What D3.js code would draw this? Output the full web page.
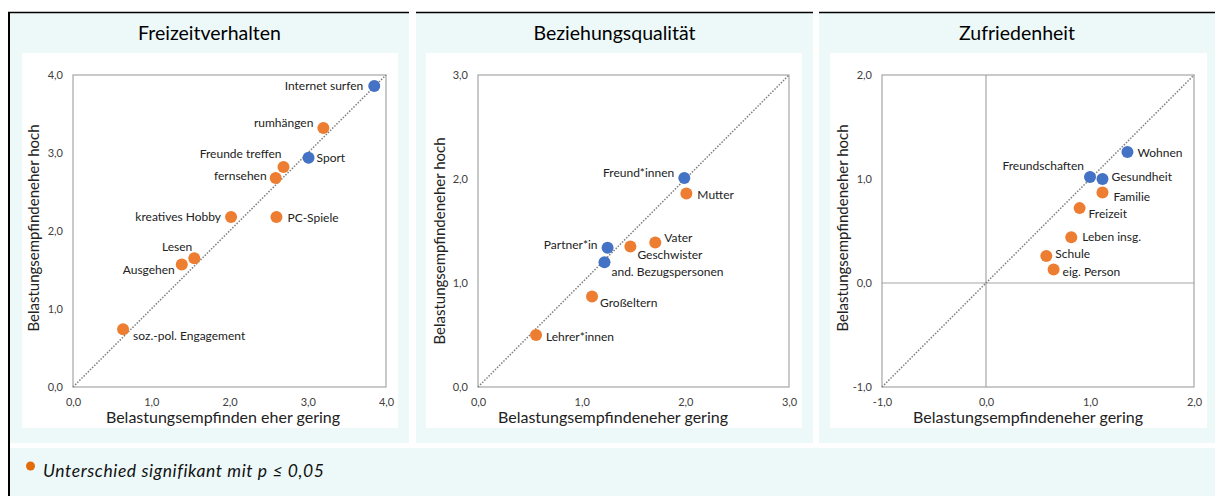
<!DOCTYPE html>
<html>
<head>
<meta charset="utf-8">
<script src="https://cdn.jsdelivr.net/npm/d3@7"></script>
<style>
  html, body { margin: 0; padding: 0; background: #fff; }
  svg { display: block; font-family: Lato, "Open Sans", sans-serif; }
</style>
</head>
<body>
<svg id="chart"></svg>
<script>
// --- data ---
const panelTitles = ["Freizeitverhalten", "Beziehungsqualität", "Zufriedenheit"];
const xAxisTitles = ["Belastungsempfinden eher gering", "Belastungsempfindeneher gering", "Belastungsempfindeneher gering"];
const yAxisTitle = "Belastungsempfindeneher hoch";

const freizeitItems = ["Internet surfen", "rumhängen", "Sport", "Freunde treffen", "fernsehen",
  "kreatives Hobby", "PC-Spiele", "Lesen", "Ausgehen", "soz.-pol. Engagement"];
const freizeitGering = [3.85, 3.20, 3.01, 2.69, 2.59, 2.02, 2.60, 1.55, 1.39, 0.64];
const freizeitHoch   = [3.86, 3.32, 2.94, 2.82, 2.68, 2.18, 2.18, 1.65, 1.57, 0.74];
const freizeitSignif = [false, true, false, true, true, true, true, true, true, true];

const beziehungItems = ["Freund*innen", "Mutter", "Vater", "Geschwister", "Partner*in",
  "and. Bezugspersonen", "Großeltern", "Lehrer*innen"];
const beziehungGering = [1.99, 2.01, 1.71, 1.47, 1.25, 1.22, 1.10, 0.56];
const beziehungHoch   = [2.01, 1.86, 1.39, 1.35, 1.34, 1.20, 0.87, 0.50];
const beziehungSignif = [false, true, true, true, false, false, true, true];

const zufriedenItems = ["Wohnen", "Freundschaften", "Gesundheit", "Familie", "Freizeit",
  "Leben insg.", "Schule", "eig. Person"];
const zufriedenGering = [1.36, 1.00, 1.12, 1.12, 0.90, 0.82, 0.58, 0.65];
const zufriedenHoch   = [1.26, 1.02, 1.00, 0.87, 0.72, 0.44, 0.26, 0.13];
const zufriedenSignif = [false, false, false, true, true, true, true, true];

const freizeitTicks = [0, 1, 2, 3, 4];
const beziehungTicks = [0, 1, 2, 3];
const zufriedenTicks = [-1, 0, 1, 2];

const legendText = "Unterschied signifikant mit p ≤ 0,05";

// label placement [anchor, dx, dy] relative to the point
const freizeitLabelPos = [["end", -11, 0], ["end", -10, -5], ["start", 8, 0], ["end", -2, -13], ["end", -9, -2],
  ["end", -10, 0], ["start", 11, 1], ["end", -2, -12], ["end", -7, 5], ["start", 10, 7]];
const beziehungLabelPos = [["end", -10, -5], ["start", 11, 1], ["start", 9, -5], ["start", 7, 8], ["end", -10, -3],
  ["start", 7, 10], ["start", 8, 6], ["start", 10, 2]];
const zufriedenLabelPos = [["start", 10, 1], ["end", -6, -11], ["start", 9, -2], ["start", 11, 4], ["start", 9, 6],
  ["start", 11, 0], ["start", 9, -2], ["start", 9, 2]];

// --- layout ---
const W = 1215, H = 496;
const cyan = "#EDF9F9";
const orange = "#ED7D31", blue = "#4472C4";
const gridGray = "#A6A6A6";
const plotTop = 75, plotBottom = 387;

const panels = [
  { title: panelTitles[0], xTitle: xAxisTitles[0], bg: [10, 409], inner: [22, 398], plot: [73, 386],
    domain: [0, 4], ticks: freizeitTicks, xTitleX: 223, yTitleY: 228,
    items: freizeitItems, xs: freizeitGering, ys: freizeitHoch, sig: freizeitSignif, pos: freizeitLabelPos },
  { title: panelTitles[1], xTitle: xAxisTitles[1], bg: [416, 813], inner: [426, 802], plot: [478, 789],
    domain: [0, 3], ticks: beziehungTicks, xTitleX: 613, yTitleY: 241,
    items: beziehungItems, xs: beziehungGering, ys: beziehungHoch, sig: beziehungSignif, pos: beziehungLabelPos },
  { title: panelTitles[2], xTitle: xAxisTitles[2], bg: [819, 1215], inner: [830, 1207], plot: [882, 1194],
    domain: [-1, 2], ticks: zufriedenTicks, xTitleX: 1028, yTitleY: 228,
    items: zufriedenItems, xs: zufriedenGering, ys: zufriedenHoch, sig: zufriedenSignif, pos: zufriedenLabelPos }
];

const fmt = v => d3.format(".1f")(v).replace(".", ",").replace("−", "-");

const svg = d3.select("#chart").attr("width", W).attr("height", H);

panels.forEach((p, i) => {
  const g = svg.append("g");

  // panel backgrounds
  g.append("rect").attr("x", p.bg[0]).attr("y", 12).attr("width", p.bg[1] - p.bg[0]).attr("height", 431)
    .attr("fill", cyan);
  g.append("rect").attr("x", p.inner[0]).attr("y", 53).attr("width", p.inner[1] - p.inner[0]).attr("height", 375)
    .attr("fill", "#fff");
  // top border
  g.append("line").attr("x1", i === 0 ? 8 : p.bg[0]).attr("x2", p.bg[1])
    .attr("y1", 12.5).attr("y2", 12.5).attr("stroke", "#000").attr("stroke-width", 1.5);

  g.append("text").attr("x", (p.bg[0] + p.bg[1]) / 2).attr("y", 40)
    .attr("text-anchor", "middle").attr("font-size", 19.5).attr("fill", "#000").text(p.title);

  const x = d3.scaleLinear(p.domain, p.plot);
  const y = d3.scaleLinear(p.domain, [plotBottom, plotTop]);

  // zero lines for panel with negative domain
  if (p.domain[0] < 0) {
    g.append("line").attr("x1", x(0)).attr("x2", x(0)).attr("y1", plotTop).attr("y2", plotBottom)
      .attr("stroke", gridGray).attr("stroke-width", 1.2);
    g.append("line").attr("x1", p.plot[0]).attr("x2", p.plot[1]).attr("y1", y(0)).attr("y2", y(0))
      .attr("stroke", gridGray).attr("stroke-width", 1.2);
  }

  // frame
  g.append("rect").attr("x", p.plot[0]).attr("y", plotTop)
    .attr("width", p.plot[1] - p.plot[0]).attr("height", plotBottom - plotTop)
    .attr("fill", "none").attr("stroke", gridGray).attr("stroke-width", 1.2);

  // axes
  const xAxis = d3.axisBottom(x).tickValues(p.ticks).tickSize(0).tickPadding(11).tickFormat(fmt);
  const yAxis = d3.axisLeft(y).tickValues(p.ticks).tickSize(0).tickPadding(10).tickFormat(fmt);
  g.append("g").attr("transform", `translate(0,${plotBottom})`).call(xAxis)
    .call(a => a.select(".domain").remove())
    .selectAll("text").attr("font-family", "Lato, sans-serif").attr("font-size", 11).attr("fill", "#404040");
  g.append("g").attr("transform", `translate(${p.plot[0]},0)`).call(yAxis)
    .call(a => a.select(".domain").remove())
    .selectAll("text").attr("font-family", "Lato, sans-serif").attr("font-size", 11).attr("fill", "#404040");

  // axis titles
  g.append("text").attr("x", p.xTitleX).attr("y", 423).attr("text-anchor", "middle")
    .attr("font-size", 16).attr("fill", "#222").text(p.xTitle);
  g.append("text").attr("transform", `translate(${p.bg[0] + 29},${p.yTitleY}) rotate(-90)`)
    .attr("text-anchor", "middle").attr("font-size", 15).attr("fill", "#222").text(yAxisTitle);

  // diagonal
  const diag = d3.line().x(d => x(d)).y(d => y(d));
  g.append("path").datum(p.domain).attr("d", diag).attr("fill", "none")
    .attr("stroke", "#7F7F7F").attr("stroke-width", 1.5).attr("stroke-dasharray", "1.5,1.5");

  // points
  const data = p.items.map((name, k) => ({ name, gx: p.xs[k], hy: p.ys[k], sig: p.sig[k], pos: p.pos[k] }));
  g.selectAll(".dot").data(data).enter().append("circle")
    .attr("cx", d => x(d.gx)).attr("cy", d => y(d.hy)).attr("r", 6)
    .attr("fill", d => d.sig ? orange : blue);
  g.selectAll(".lbl").data(data).enter().append("text")
    .attr("x", d => x(d.gx) + d.pos[1]).attr("y", d => y(d.hy) + d.pos[2])
    .attr("dy", "0.35em").attr("text-anchor", d => d.pos[0])
    .attr("font-size", 12).attr("fill", "#222").text(d => d.name);
});

// legend row
svg.append("rect").attr("x", 10).attr("y", 448).attr("width", W - 10).attr("height", H - 448).attr("fill", cyan);
svg.append("line").attr("x1", 9).attr("x2", 9).attr("y1", 12).attr("y2", H)
  .attr("stroke", "#000").attr("stroke-width", 2);
svg.append("circle").attr("cx", 30.5).attr("cy", 466).attr("r", 4.5).attr("fill", "#E36C0A");
svg.append("text").attr("x", 43).attr("y", 477).attr("font-size", 17.5).attr("letter-spacing", 0.6)
  .attr("font-style", "italic").attr("fill", "#111").text(legendText);
</script>
</body>
</html>
